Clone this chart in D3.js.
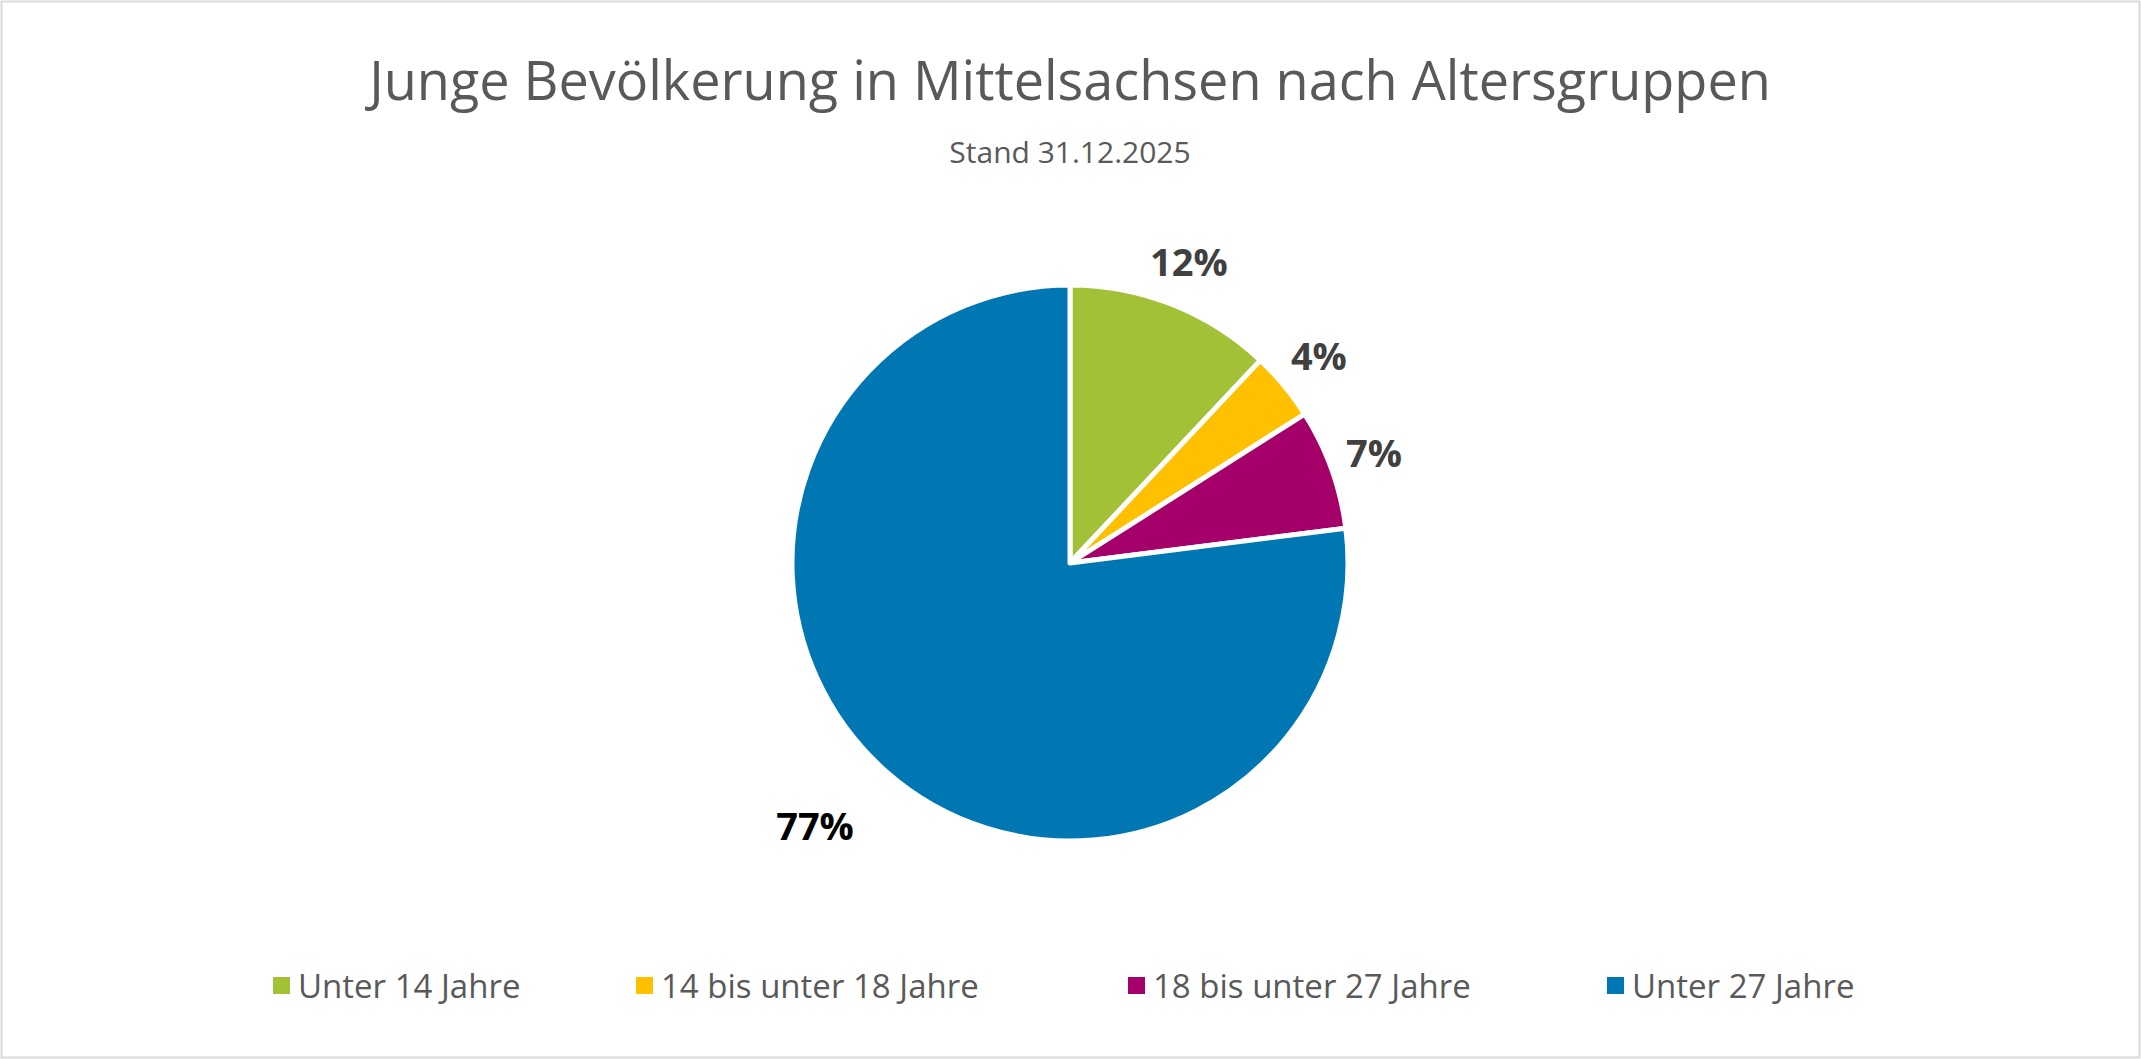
<!DOCTYPE html>
<html><head><meta charset="utf-8">
<script src="https://cdn.jsdelivr.net/npm/d3@7"></script>
<style>body{margin:0;background:#fff}</style>
</head><body>
<svg id="chart" width="2141" height="1059"></svg>
<script>
// data
const categories = ["Unter 14 Jahre", "14 bis unter 18 Jahre", "18 bis unter 27 Jahre", "Unter 27 Jahre"];
const values = [12, 4, 7, 77];
const valueLabels = ["12%", "4%", "7%", "77%"];
const colors = ["#a2c137", "#ffc000", "#a50069", "#0077b3"];

const svg = d3.select("#chart");
svg.append("rect").attr("x", 1.5).attr("y", 1.5).attr("width", 2138).attr("height", 1056)
    .attr("fill", "#fff").attr("stroke", "#d9d9d9").attr("stroke-width", 2);

svg.append("text").attr("x", 1070).attr("y", 100).attr("text-anchor", "middle")
    .attr("font-family", "Open Sans, sans-serif").attr("font-size", 54).attr("fill", "#595959")
    .text("Junge Bevölkerung in Mittelsachsen nach Altersgruppen");
svg.append("text").attr("x", 1070).attr("y", 163).attr("text-anchor", "middle")
    .attr("font-family", "Open Sans, sans-serif").attr("font-size", 30).attr("fill", "#595959")
    .text("Stand 31.12.2025");

const cx = 1070, cy = 563, r = 278;
const pie = d3.pie().sort(null)(values);
const arc = d3.arc().innerRadius(0).outerRadius(r);
const g = svg.append("g").attr("transform", `translate(${cx},${cy})`);
g.selectAll("path").data(pie).join("path")
    .attr("d", arc).attr("fill", (d, i) => colors[i])
    .attr("stroke", "#fff").attr("stroke-width", 5).attr("stroke-linejoin", "round");

const labelArc = d3.arc().innerRadius(r + 45).outerRadius(r + 45);
g.selectAll("text.lbl").data(pie).join("text")
    .attr("class", "lbl")
    .attr("transform", (d, i) => {
        let [x, y] = labelArc.centroid(d);
        if (i === 3) { x = -255; y = 264; }
        return `translate(${x},${y})`;
    })
    .attr("text-anchor", "middle").attr("dy", "0.35em")
    .attr("font-family", "Open Sans, sans-serif").attr("font-weight", "bold").attr("font-size", 38)
    .attr("fill", (d, i) => i === 3 ? "#000" : "#404040")
    .text((d, i) => valueLabels[i]);

const legendX = [273, 636, 1128, 1607];
const lg = svg.append("g").selectAll("g").data(categories).join("g")
    .attr("transform", (d, i) => `translate(${legendX[i]},986)`);
lg.append("rect").attr("x", 0).attr("y", -9).attr("width", 17).attr("height", 17)
    .attr("fill", (d, i) => colors[i]);
lg.append("text").attr("x", 25).attr("dy", "0.35em")
    .attr("font-family", "Open Sans, sans-serif").attr("font-size", 33).attr("fill", "#595959")
    .text(d => d);
</script>
</body></html>
